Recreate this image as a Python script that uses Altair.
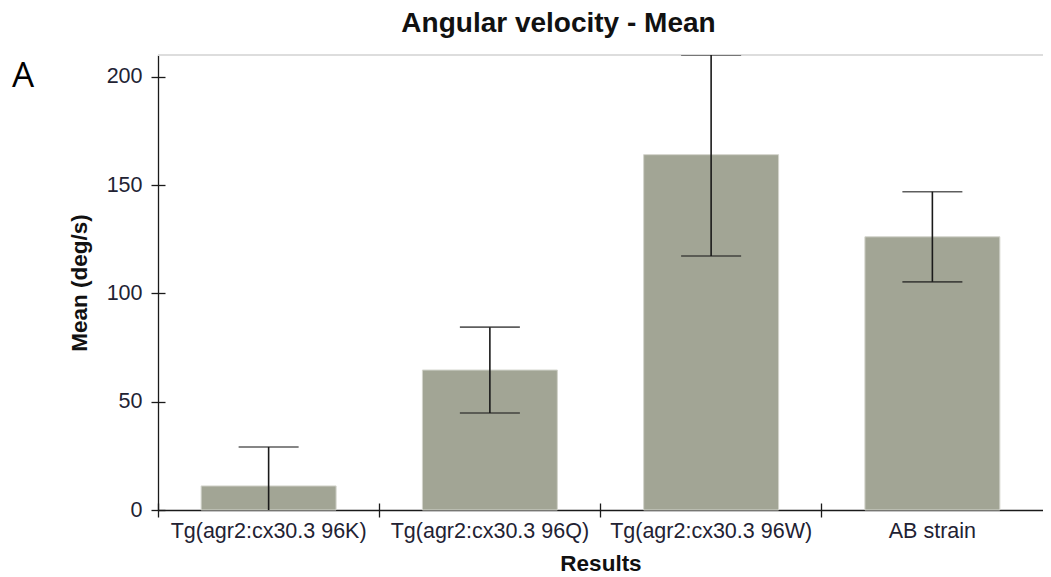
import altair as alt
import pandas as pd

groups = ["Tg(agr2:cx30.3 96K)", "Tg(agr2:cx30.3 96Q)", "Tg(agr2:cx30.3 96W)", "AB strain"]
means = [11.1, 64.6, 164.0, 126.1]
lower = [-6.9, 44.8, 117.2, 105.3]
upper = [29.1, 84.4, 210.0, 146.9]
y_ticks = [0, 50, 100, 150, 200]

df = pd.DataFrame({"group": groups, "mean": means, "lower": lower, "upper": upper})

FONT = "Liberation Sans"
INK = "#1a1a1a"

base = alt.Chart(df)

x_main = alt.X(
    "group:N", sort=groups,
    scale=alt.Scale(paddingInner=0, paddingOuter=0),
    axis=alt.Axis(
        title="Results", bandPosition=0, labelAngle=0, tickSize=7, tickColor=INK,
        tickWidth=1.3, domainColor=INK, domainWidth=1.3, labelFont=FONT,
        labelFontSize=21.5, labelColor="#222233", labelPadding=3, labelLimit=0,
        titleFont=FONT, titleFontSize=22.5, titleFontWeight="bold", titleColor="#111",
        titlePadding=11, grid=False,
    ),
)
y_main = alt.Y(
    "mean:Q",
    scale=alt.Scale(domain=[0, 210], nice=False, zero=True),
    axis=alt.Axis(
        title="Mean (deg/s)", values=y_ticks, tickSize=7, tickColor=INK, tickWidth=1.3,
        domainColor=INK, domainWidth=1.3, labelFont=FONT, labelFontSize=21.5,
        labelColor="#222233", labelPadding=9, titleFont=FONT, titleFontSize=22.5,
        titleFontWeight="bold", titleColor="#111", titlePadding=15, grid=False,
    ),
)

bars = base.mark_bar(
    color="#a2a595", stroke="#d3d4cc", strokeWidth=1,
    width=alt.RelativeBandSize(0.61),
).encode(x=x_main, y=y_main)

frame_top = base.mark_rule(color="#dddddd", strokeWidth=2).encode(y=alt.value(0))

err = base.mark_rule(color=INK, strokeWidth=1.6, clip=True).encode(
    x=alt.X("group:N", sort=groups,
            axis=alt.Axis(orient="bottom", bandPosition=0, domain=False, labels=False,
                          title=None, tickSize=7, tickColor=INK, tickWidth=1.3,
                          offset=-7, grid=False)),
    y=alt.Y("lower:Q",
            axis=alt.Axis(orient="left", values=y_ticks, domain=False, labels=False,
                          title=None, tickSize=7, tickColor=INK, tickWidth=1.3,
                          offset=-7, grid=False)),
    y2="upper:Q",
)

cap_hi = base.mark_tick(color=INK, thickness=1.6, size=60, clip=True).encode(
    x=alt.X("group:N", sort=groups, axis=None),
    y=alt.Y("upper:Q", axis=None),
)
cap_lo = base.mark_tick(color=INK, thickness=1.6, size=60, clip=True).encode(
    x=alt.X("group:N", sort=groups, axis=None),
    y=alt.Y("lower:Q", axis=None),
)

panel = alt.Chart(pd.DataFrame({"t": ["A"]})).mark_text(
    font="Open Sans", fontSize=35, align="left", baseline="alphabetic", color="#000"
).encode(x=alt.value(-146), y=alt.value(32), text="t:N")

chart = alt.layer(bars, frame_top, err, cap_hi, cap_lo, panel).resolve_axis(
    x="independent", y="independent"
).properties(
    width=885, height=455,
    title=alt.TitleParams(
        "Angular velocity - Mean", font=FONT, fontSize=28, fontWeight="bold",
        color="#111", anchor="middle", dx=-42, dy=26, baseline="alphabetic", offset=20,
    ),
    autosize=alt.AutoSizeParams(type="none"),
    padding={"left": 150, "top": 47, "right": 0, "bottom": 66},
).configure_view(stroke=None)

chart.save("out.html", embed_options={"renderer": "svg", "actions": False})
